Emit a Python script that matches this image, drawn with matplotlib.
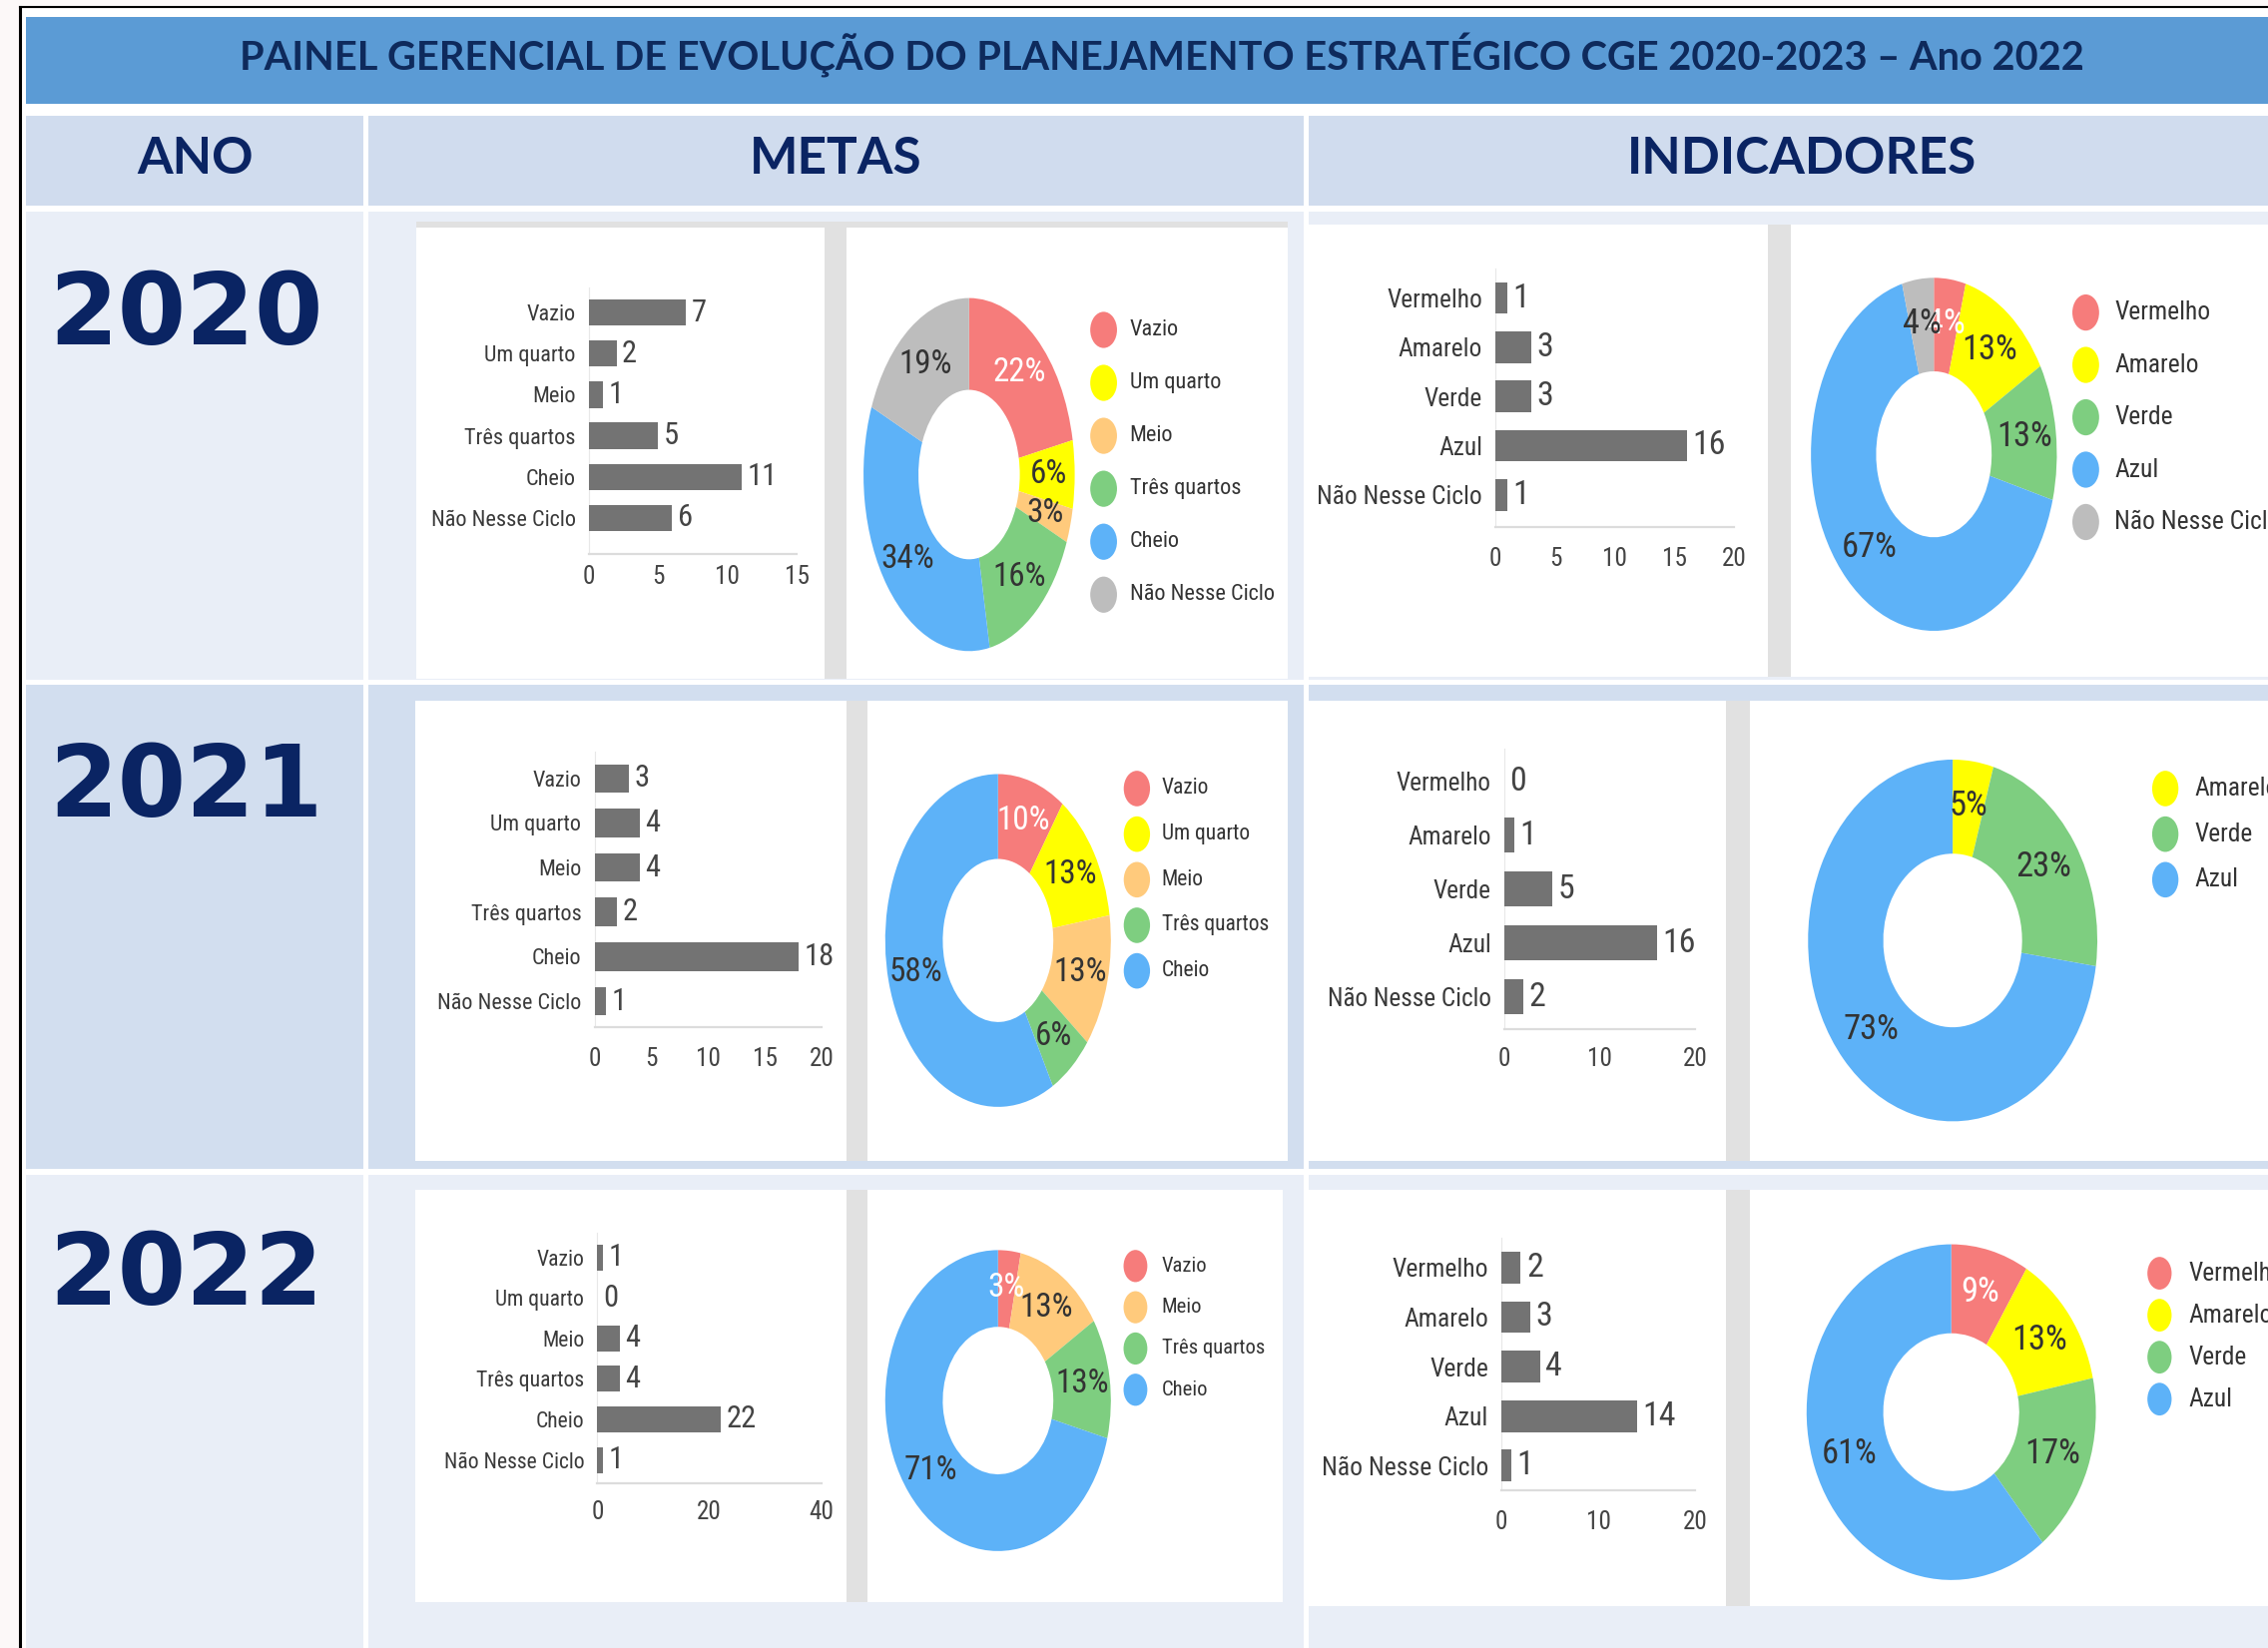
import numpy as np
import matplotlib.pyplot as plt
from matplotlib.patches import Rectangle, Ellipse
from matplotlib.font_manager import FontProperties, fontManager
from matplotlib.textpath import TextPath

# layout units: the reference as seen at 1568x1139, figure saved at 2272x1651
W, H = 1568, 1139

years = ['2020', '2021', '2022']
title = 'PAINEL GERENCIAL DE EVOLUÇÃO DO PLANEJAMENTO ESTRATÉGICO CGE 2020-2023 – Ano 2022'

metas_cats = ['Vazio', 'Um quarto', 'Meio', 'Três quartos', 'Cheio', 'Não Nesse Ciclo']
metas_2020 = [7, 2, 1, 5, 11, 6]
metas_2021 = [3, 4, 4, 2, 18, 1]
metas_2022 = [1, 0, 4, 4, 22, 1]
metas_xmax = [15, 20, 40]
metas_step = [5, 5, 20]

ind_cats = ['Vermelho', 'Amarelo', 'Verde', 'Azul', 'Não Nesse Ciclo']
ind_2020 = [1, 3, 3, 16, 1]
ind_2021 = [0, 1, 5, 16, 2]
ind_2022 = [2, 3, 4, 14, 1]
ind_xmax = [20, 20, 20]
ind_step = [5, 10, 10]

# the donut of 2020 still counts "Não Nesse Ciclo"
pie_keeps_nnc = [True, False, False]

metas_colors = ['#F67C7B', '#FFFF00', '#FFCA7C', '#7ECE80', '#5DB2F8', '#BDBDBD']
ind_colors = ['#F67C7B', '#FFFF00', '#7ECE80', '#5DB2F8', '#BDBDBD']

NAVY = '#0A2463'

# the chart texts are narrow; pick the narrowest Arial-like face available
avail = {f.name for f in fontManager.ttflist}
if 'Roboto Condensed' in avail:
    BASE_FP = FontProperties(family=['Roboto Condensed', 'DejaVu Sans'])
elif 'Liberation Sans Narrow' in avail:
    BASE_FP = FontProperties(family=['Liberation Sans Narrow', 'DejaVu Sans'])
else:
    BASE_FP = FontProperties(family=['Liberation Sans', 'DejaVu Sans'])


def fp(size):
    p = BASE_FP.copy()
    p.set_size(size)
    return p


def fit(sample, width, boost=1.06):
    # font size (pt) that makes `sample` about `width` layout px wide
    w = TextPath((0, 0), sample, size=100, prop=fp(100)).get_extents().width / 100
    return width * 1.043 / w * boost


fig = plt.figure(figsize=(22.72, 16.51), dpi=100)
bg = fig.add_axes([0, 0, 1, 1])
bg.set_xlim(0, W)
bg.set_ylim(H, 0)
bg.axis('off')


def box(x0, y0, x1, y1, color, z=0):
    bg.add_patch(Rectangle((x0, y0), x1 - x0, y1 - y0, facecolor=color,
                           edgecolor='none', zorder=z))


def sub_axes(x0, y0, x1, y1):
    return fig.add_axes([x0 / W, 1 - y1 / H, (x1 - x0) / W, (y1 - y0) / H])


# frame, title band and header row
box(0, 0, W, H, '#FCF8F8')
box(15, 6, W, H, 'white')
bg.plot([14, 14], [5, H], color='black', lw=2.2)
bg.plot([14, W], [5, 5], color='black', lw=1.5)
box(18, 12, W, 72, '#5B9BD5')
bg.text(803, 38, title, ha='center', va='center', fontsize=28.6,
        fontweight='bold', family=['Lato', 'DejaVu Sans'], color='#0E2A5C')

col_edges = [(18, 251), (255, 901), (905, W)]
for (x0, x1) in col_edges:
    box(x0, 80, x1, 142, '#D0DCEE')
for txt, xc in zip(['ANO', 'METAS', 'INDICADORES'], [135, 578, 1246]):
    bg.text(xc, 110, txt, ha='center', va='center', fontsize=37,
            fontweight='bold', family=['Lato', 'DejaVu Sans'], color=NAVY)

row_edges = [(146, 470), (473, 808), (812, H)]
row_colors = ['#E9EEF7', '#D2DEEF', '#E9EEF7']
year_base = [238, 564, 902]
for k, (y0, y1) in enumerate(row_edges):
    for (x0, x1) in col_edges:
        box(x0, y0, x1, y1, row_colors[k])
    bg.text(34, year_base[k], years[k], ha='left', va='baseline', fontsize=71,
            fontweight='bold', family='DejaVu Sans', color=NAVY)

# cards per row: metas bar, metas donut, indicadores bar, indicadores donut
cards = [
    [(288, 157, 570, 469), (585, 157, 890, 469), (905, 155, 1222, 468), (1238, 155, W, 468)],
    [(287, 484, 585, 802), (600, 484, 890, 802), (905, 484, 1193, 802), (1210, 484, W, 802)],
    [(287, 822, 585, 1107), (600, 822, 887, 1107), (905, 822, 1193, 1110), (1210, 822, W, 1110)],
]
for k, row in enumerate(cards):
    for j, (a, b) in enumerate([(row[0], row[1]), (row[2], row[3])]):
        box(a[2], a[1], b[0], max(a[3], b[3]), '#E1E1E1', 1)
        if k == 0 and j == 0:
            # thin gray strip above the first metas pair
            box(a[0], a[1] - 4, b[2], a[1], '#E1E1E1', 1)
    for c in row:
        box(c[0], c[1], c[2], c[3], 'white', 2)

# bar layout: zero x, xmax x, first bar y, last bar y, baseline y, tick label y
metas_bar_pos = [(407, 551, 216, 358, 383, 397),
                 (411, 568, 538, 692, 710, 730),
                 (413, 568, 869, 1009, 1025, 1043)]
ind_bar_pos = [(1034, 1199, 206, 342, 364, 384),
               (1040, 1172, 540, 689, 711, 730),
               (1038, 1172, 876, 1013, 1030, 1050)]

# donut layout: center x, center y, radius x, radius y, hole fraction
metas_pie_pos = [(670, 328, 73, 122, 0.48),
                 (690, 650, 78, 115, 0.49),
                 (690, 968, 78, 104, 0.49)]
ind_pie_pos = [(1337, 314, 85, 122, 0.47),
               (1350, 650, 100, 125, 0.48),
               (1349, 976, 100, 116, 0.47)]

# legend layout: marker x, first y, spacing, label x
metas_leg_pos = [(763, 228, 36.6, 781), (786, 545, 31.5, 803), (785, 875, 28.5, 803)]
ind_leg_pos = [(1442, 216, 36.2, 1462), (1497, 545, 31.5, 1517), (1493, 880, 29, 1513)]

# text sizes fitted to the widths of sample texts in the reference
metas_fs = [dict(lab=fit('Não Nesse Ciclo', w), val=fit('18', 17), tick=fit('10', 14),
                 pct=fit('34%', 33), leg=fit(s, lw))
            for w, (s, lw) in zip([93, 92, 90], [('Não Nesse Ciclo', 93),
                                                 ('Três quartos', 69),
                                                 ('Três quartos', 66)])]
ind_fs = [dict(lab=fit('Não Nesse Ciclo', w), val=fit('16', 19), tick=fit('10', 14),
               pct=fit('67%', 34), leg=fit(s, lw))
          for w, (s, lw) in zip([106, 105, 107], [('Amarelo', 54), ('Verde', 37),
                                                   ('Verde', 37)])]


def draw_bar(pos, cats, vals, xmax, step, fs):
    zx, mx, first, last, base, tly = pos
    n = len(cats)
    sp = (last - first) / (n - 1)
    ax = sub_axes(zx, first - 0.6 * sp, mx, base)
    ax.patch.set_alpha(0)
    y = np.arange(n)
    ax.barh(y, vals, height=0.64, color='#737373', zorder=3)
    ax.set_xlim(0, xmax)
    ax.set_ylim(n - 1 + (base - last) / sp, -0.6)
    ax.set_yticks(y, cats)
    ax.set_xticks(np.arange(0, xmax + 1, step))
    for s in ['top', 'right']:
        ax.spines[s].set_visible(False)
    ax.spines['left'].set_color('#E8E8E8')
    ax.spines['bottom'].set_color('#DCDCDC')
    ax.spines['bottom'].set_linewidth(1.6)
    pad_x = (tly - base) * 1.043 - 0.36 * fs['tick']
    ax.tick_params(axis='x', length=0, pad=pad_x, labelcolor='#444444')
    ax.tick_params(axis='y', length=0, pad=9.5, labelcolor='#3A3A3A')
    for lab in ax.get_xticklabels():
        lab.set_fontproperties(fp(fs['tick']))
    for lab in ax.get_yticklabels():
        lab.set_fontproperties(fp(fs['lab']))
    for i, v in enumerate(vals):
        ax.annotate(str(v), (v, i), xytext=(4, 0), textcoords='offset points',
                    va='center', ha='left', color='#444444',
                    fontproperties=fp(fs['val']))


def draw_pie(pos, leg, cats, vals, colors, keep_nnc, fs):
    cx, cy, rx, ry, hole = pos
    keep = [i for i, v in enumerate(vals)
            if v > 0 and (keep_nnc or cats[i] != 'Não Nesse Ciclo')]
    ax = sub_axes(cx - rx, cy - ry, cx + rx, cy + ry)
    wedges, _, autotexts = ax.pie(
        [vals[i] for i in keep], colors=[colors[i] for i in keep],
        startangle=90, counterclock=False, radius=1,
        wedgeprops=dict(width=1 - hole, edgecolor='none'),
        autopct=lambda p: f'{int(p + 0.5)}%', pctdistance=(1 + hole) / 2 + 0.01)
    ax.set_aspect('auto')
    ax.set_xlim(-1, 1)
    ax.set_ylim(-1, 1)
    for i, t in zip(keep, autotexts):
        t.set_fontproperties(fp(fs['pct']))
        t.set_color('white' if cats[i] in ('Vazio', 'Vermelho') else '#333333')
    mx, y0, sp, tx = leg
    h = min(25, 0.78 * sp)
    for k, i in enumerate(keep):
        yy = y0 + k * sp
        bg.add_patch(Ellipse((mx, yy), 0.74 * h, h, facecolor=colors[i],
                             edgecolor='none', zorder=5))
        bg.text(tx, yy, cats[i], ha='left', va='center', color='#333333',
                fontproperties=fp(fs['leg']), zorder=5)


metas_vals = [metas_2020, metas_2021, metas_2022]
ind_vals = [ind_2020, ind_2021, ind_2022]
for k in range(3):
    draw_bar(metas_bar_pos[k], metas_cats, metas_vals[k], metas_xmax[k],
             metas_step[k], metas_fs[k])
    draw_pie(metas_pie_pos[k], metas_leg_pos[k], metas_cats, metas_vals[k],
             metas_colors, pie_keeps_nnc[k], metas_fs[k])
    draw_bar(ind_bar_pos[k], ind_cats, ind_vals[k], ind_xmax[k],
             ind_step[k], ind_fs[k])
    draw_pie(ind_pie_pos[k], ind_leg_pos[k], ind_cats, ind_vals[k],
             ind_colors, pie_keeps_nnc[k], ind_fs[k])

fig.savefig('out.png', dpi=100)
